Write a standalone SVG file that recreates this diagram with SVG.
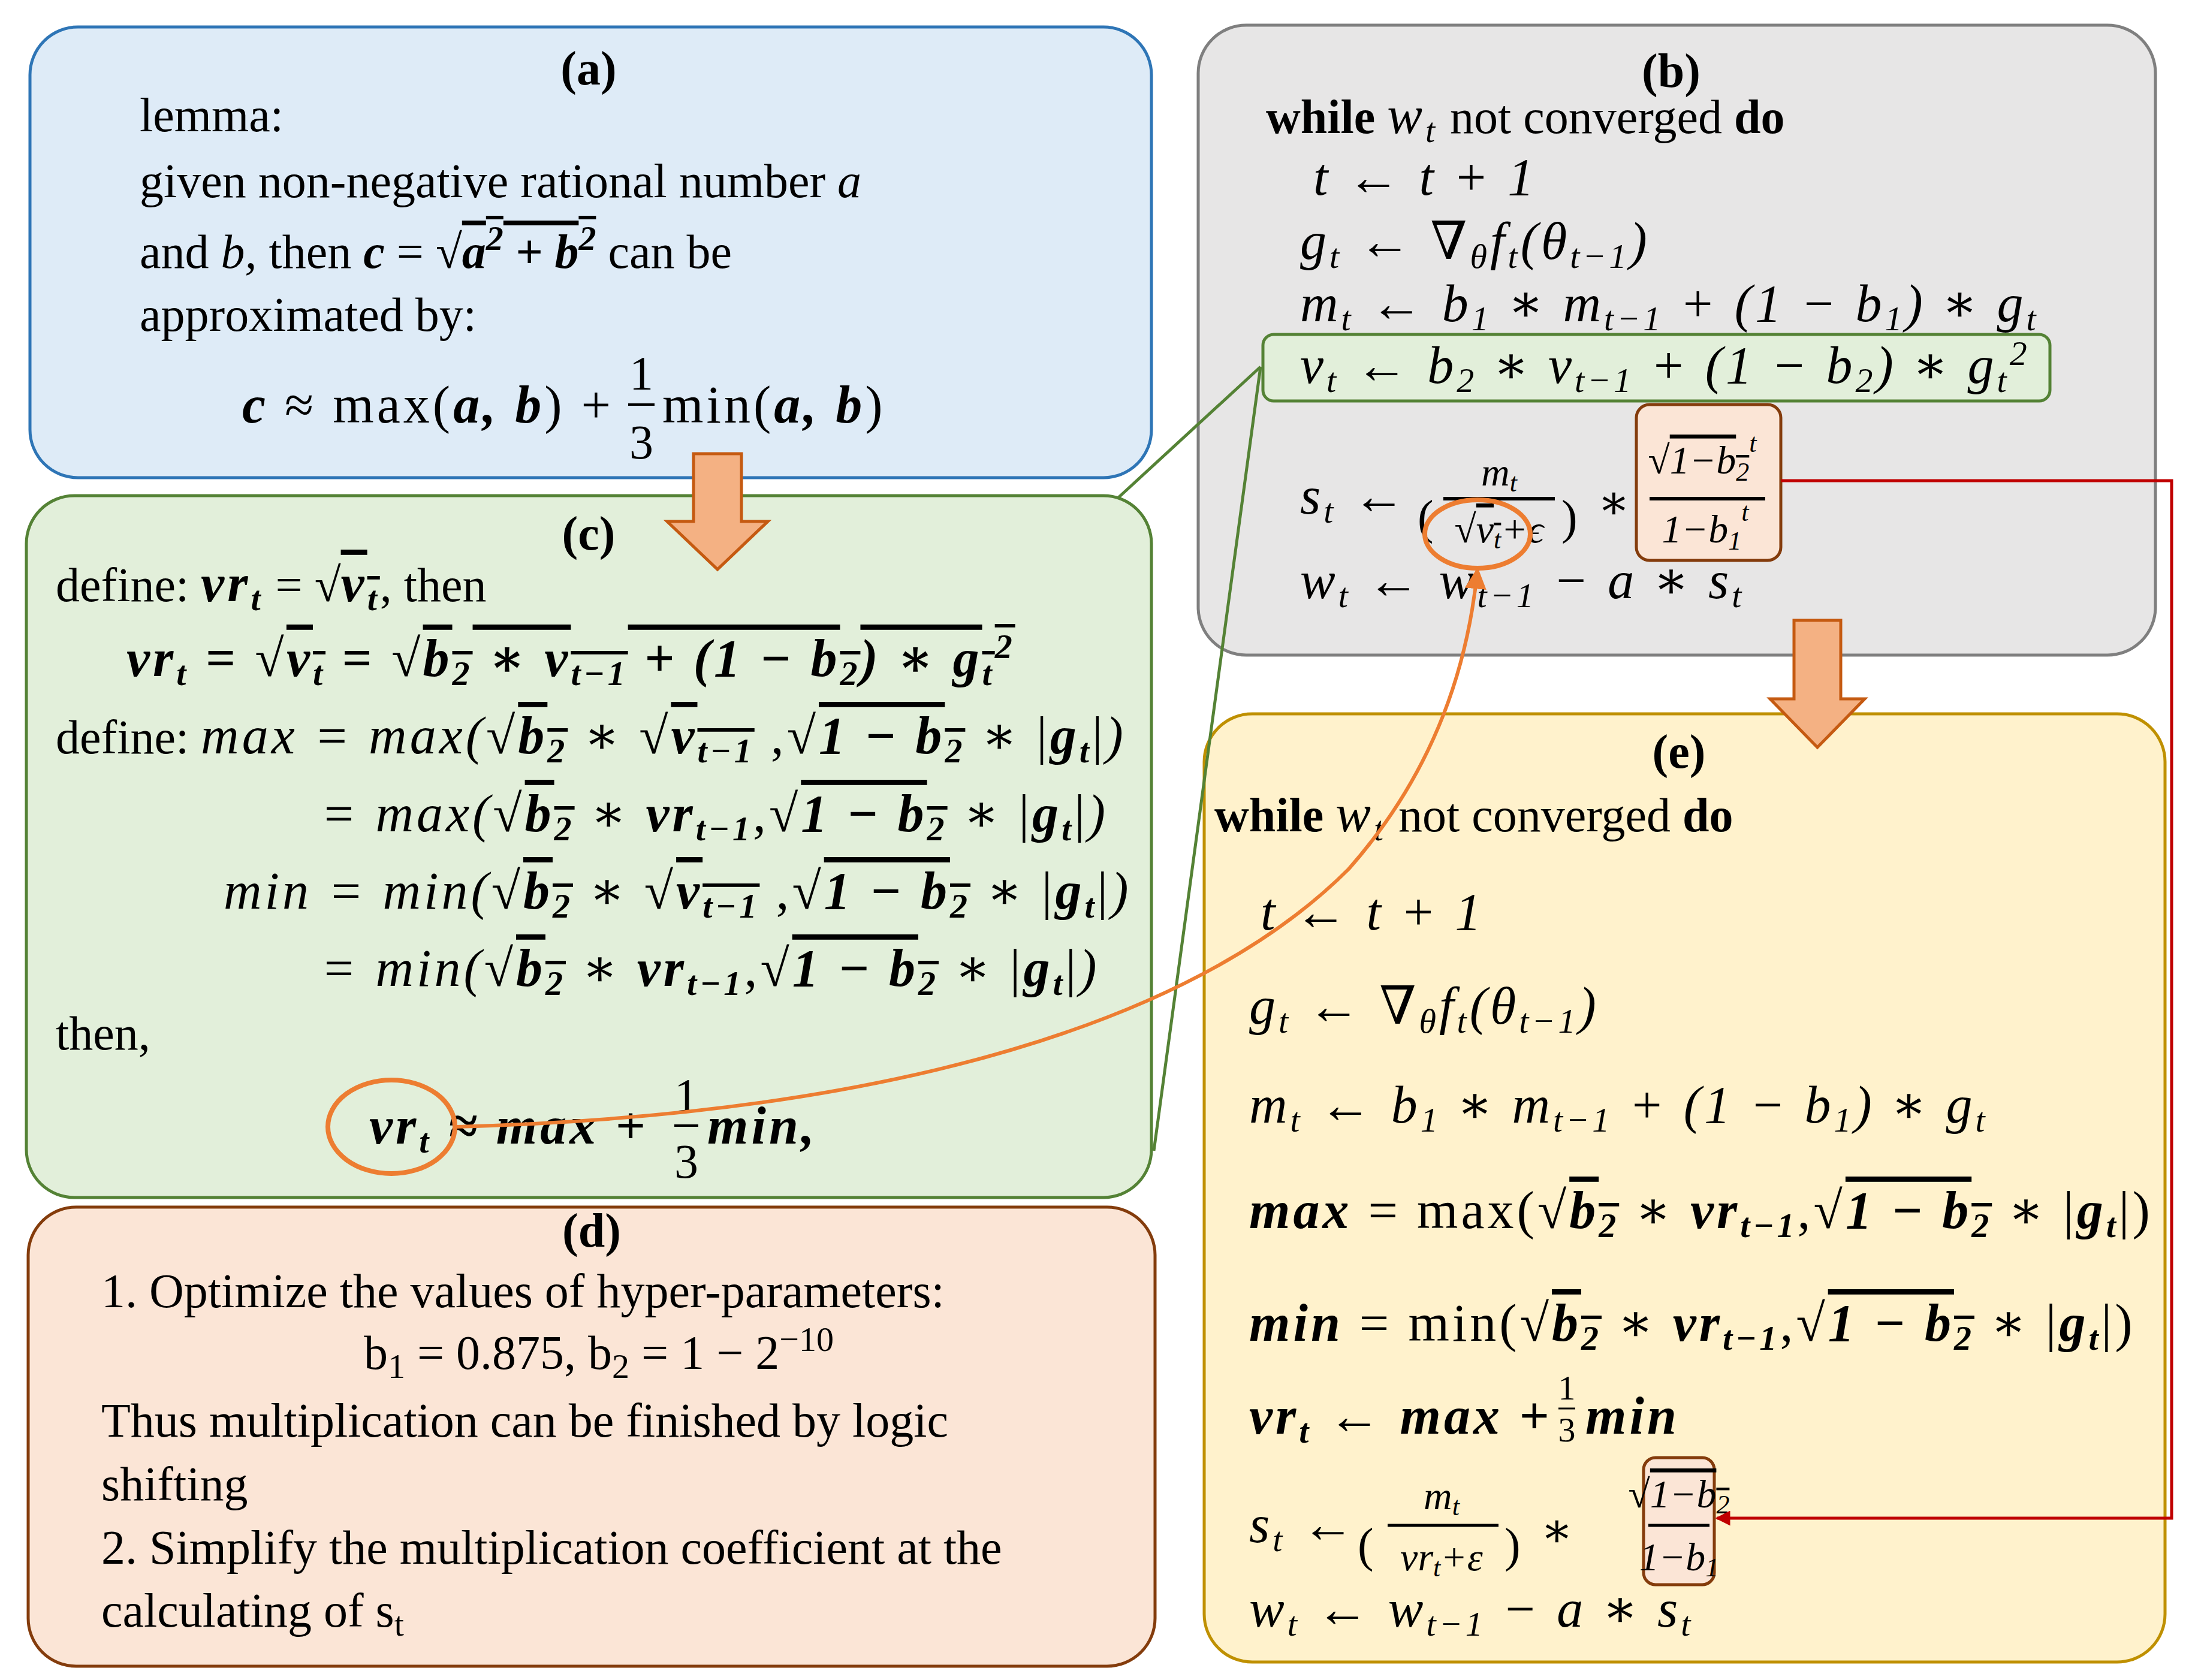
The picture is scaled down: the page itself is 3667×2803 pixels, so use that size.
<svg xmlns="http://www.w3.org/2000/svg" width="3667" height="2803" viewBox="0 0 3667 2803">
<defs>
<style>
text{font-family:"Liberation Serif","DejaVu Serif",serif;font-size:80px;fill:#000}
.t{font-weight:bold;text-anchor:middle}
.m{font-style:italic}
.mb{font-style:italic;font-weight:bold}
.s{font-size:58px}
.f{font-size:66px;font-style:italic}
.ov{text-decoration:overline}
.mx{font-size:88px;letter-spacing:5px}
</style>
<marker id="oa" viewBox="0 0 10 10" refX="9" refY="5" markerWidth="6" markerHeight="6" orient="auto"><path d="M0,0L10,5L0,10z" fill="#ED7D31"/></marker>
<marker id="ra" viewBox="0 0 10 10" refX="9" refY="5" markerWidth="5" markerHeight="5" orient="auto"><path d="M0,0L10,5L0,10z" fill="#C00000"/></marker>
</defs>
<rect width="3667" height="2803" fill="#fff"/>

<g id="a">
<rect x="50" y="45" width="1871" height="752" rx="80" fill="#DEEBF7" stroke="#2E75B6" stroke-width="5"/>
<text class="t" x="982" y="141">(a)</text>
<text x="233" y="219">lemma:</text>
<text x="233" y="329">given non-negative rational number <tspan class="m">a</tspan></text>
<text x="233" y="447">and <tspan class="m">b,</tspan> then <tspan class="mb">c</tspan> = √<tspan class="mb ov">a<tspan class="s" dy="-30">2</tspan><tspan dy="30"> + b</tspan><tspan class="s" dy="-30">2</tspan></tspan><tspan dy="30"> can be</tspan></text>
<text x="233" y="552">approximated by:</text>
<text x="404" y="705" class="mx"><tspan class="mb">c</tspan> ≈ max(<tspan class="mb">a, b</tspan>) + </text>
<text x="1070" y="650" text-anchor="middle">1</text><line x1="1048" y1="675" x2="1092" y2="675" stroke="#000" stroke-width="4"/><text x="1070" y="765" text-anchor="middle">3</text>
<text x="1105" y="705" class="mx">min(<tspan class="mb">a, b</tspan>)</text>
</g>

<g id="c">
<rect x="44" y="827" width="1877" height="1171" rx="80" fill="#E2EFDA" stroke="#548235" stroke-width="5"/>
<text class="t" x="982" y="917">(c)</text>
<text x="93" y="1003">define: <tspan class="mb mx">vr<tspan class="s" dy="15">t</tspan></tspan><tspan dy="-15"> = √</tspan><tspan class="mb ov mx">v<tspan class="s" dy="15">t</tspan></tspan><tspan dy="-15">, then</tspan></text>
<text x="211" y="1128" class="mb mx">vr<tspan class="s" dy="15">t</tspan><tspan dy="-15"> = √</tspan><tspan class="ov">v<tspan class="s" dy="15">t</tspan></tspan><tspan dy="-15"> = √</tspan><tspan class="ov">b<tspan class="s" dy="15">2</tspan><tspan dy="-15">  ∗ v</tspan><tspan class="s" dy="15">t−1</tspan><tspan dy="-15"> + (1  − b</tspan><tspan class="s" dy="15">2</tspan><tspan dy="-15">) ∗ g</tspan><tspan class="s" dy="15">t</tspan><tspan class="s" dy="-45">2</tspan></tspan></text>
<text x="93" y="1257">define: <tspan class="m mx">max = max(</tspan><tspan class="mx">√</tspan><tspan class="mb ov mx">b<tspan class="s" dy="15">2</tspan></tspan><tspan class="mx" dy="-15"> ∗ √</tspan><tspan class="mb ov mx">v<tspan class="s" dy="15">t−1</tspan></tspan><tspan class="mx" dy="-15"> ,√</tspan><tspan class="mb ov mx">1 − b<tspan class="s" dy="15">2</tspan></tspan><tspan class="mx" dy="-15"> ∗ |</tspan><tspan class="mb mx">g<tspan class="s" dy="15">t</tspan></tspan><tspan class="mx" dy="-15">|<tspan class="m">)</tspan></tspan></text>
<text x="535" y="1387" class="mx"><tspan class="m">= max(</tspan>√<tspan class="mb ov">b<tspan class="s" dy="15">2</tspan></tspan><tspan dy="-15"> ∗ </tspan><tspan class="mb">vr<tspan class="s" dy="15">t−1</tspan></tspan><tspan dy="-15">,√</tspan><tspan class="mb ov">1 − b<tspan class="s" dy="15">2</tspan></tspan><tspan dy="-15"> ∗ |</tspan><tspan class="mb">g<tspan class="s" dy="15">t</tspan></tspan><tspan dy="-15">|<tspan class="m">)</tspan></tspan></text>
<text x="373" y="1516" class="mx"><tspan class="m">min = min(</tspan>√<tspan class="mb ov">b<tspan class="s" dy="15">2</tspan></tspan><tspan dy="-15"> ∗ √</tspan><tspan class="mb ov">v<tspan class="s" dy="15">t−1</tspan></tspan><tspan dy="-15"> ,√</tspan><tspan class="mb ov">1 − b<tspan class="s" dy="15">2</tspan></tspan><tspan dy="-15"> ∗ |</tspan><tspan class="mb">g<tspan class="s" dy="15">t</tspan></tspan><tspan dy="-15">|<tspan class="m">)</tspan></tspan></text>
<text x="535" y="1645" class="mx"><tspan class="m">= min(</tspan>√<tspan class="mb ov">b<tspan class="s" dy="15">2</tspan></tspan><tspan dy="-15"> ∗ </tspan><tspan class="mb">vr<tspan class="s" dy="15">t−1</tspan></tspan><tspan dy="-15">,√</tspan><tspan class="mb ov">1 − b<tspan class="s" dy="15">2</tspan></tspan><tspan dy="-15"> ∗ |</tspan><tspan class="mb">g<tspan class="s" dy="15">t</tspan></tspan><tspan dy="-15">|<tspan class="m">)</tspan></tspan></text>
<text x="93" y="1751">then,</text>
<text x="616" y="1908" class="mb mx">vr<tspan class="s" dy="15">t</tspan><tspan dy="-15"> ≈ max + </tspan></text>
<text x="1145" y="1855" text-anchor="middle">1</text><line x1="1125" y1="1878" x2="1165" y2="1878" stroke="#000" stroke-width="4"/><text x="1145" y="1965" text-anchor="middle">3</text>
<text x="1180" y="1908" class="mb mx">min,</text>
</g>

<g id="b">
<rect x="1999" y="42" width="1597" height="1051" rx="80" fill="#E7E6E6" stroke="#7F7F7F" stroke-width="5"/>
<rect x="2107" y="558" width="1313" height="111" rx="18" fill="#E2EFDA" stroke="#548235" stroke-width="5"/>
<rect x="2730" y="675" width="241" height="260" rx="22" fill="#FBE5D6" stroke="#843C0C" stroke-width="5"/>
<text class="t" x="2788" y="145">(b)</text>
<text x="2112" y="222"><tspan font-weight="bold">while </tspan><tspan class="m mx">w<tspan class="s" dy="15">t</tspan></tspan><tspan dy="-15"> not converged </tspan><tspan font-weight="bold">do</tspan></text>
<text x="2191" y="325" class="m mx">t  ← t + 1</text>
<text x="2169" y="432" class="m mx">g<tspan class="s" dy="15">t</tspan><tspan dy="-15"> ← ∇</tspan><tspan class="s" dy="15">θ</tspan><tspan dy="-15">f</tspan><tspan class="s" dy="15">t</tspan><tspan dy="-15">(θ</tspan><tspan class="s" dy="15">t−1</tspan><tspan dy="-15">)</tspan></text>
<text x="2169" y="536" class="m mx">m<tspan class="s" dy="15">t</tspan><tspan dy="-15"> ←  b</tspan><tspan class="s" dy="15">1</tspan><tspan dy="-15"> ∗  m</tspan><tspan class="s" dy="15">t−1</tspan><tspan dy="-15"> + (1  − b</tspan><tspan class="s" dy="15">1</tspan><tspan dy="-15">) ∗ g</tspan><tspan class="s" dy="15">t</tspan></text>
<text x="2169" y="639" class="m mx">v<tspan class="s" dy="15">t</tspan><tspan dy="-15"> ←  b</tspan><tspan class="s" dy="15">2</tspan><tspan dy="-15">  ∗ v</tspan><tspan class="s" dy="15">t−1</tspan><tspan dy="-15"> + (1  − b</tspan><tspan class="s" dy="15">2</tspan><tspan dy="-15">) ∗ g</tspan><tspan class="s" dy="15">t</tspan><tspan class="s" dy="-45">2</tspan></text>
<text x="2169" y="857" class="m mx">s<tspan class="s" dy="15">t</tspan><tspan dy="-15"> ←</tspan></text>
<text x="2365" y="890" font-size="150">(</text><text x="2605" y="890" font-size="150">)</text>
<text x="2501" y="810" class="f" text-anchor="middle">m<tspan font-size="44" dy="10">t</tspan></text>
<line x1="2408" y1="832" x2="2594" y2="832" stroke="#000" stroke-width="6"/>
<text x="2501" y="905" class="f" text-anchor="middle">√<tspan class="ov">v<tspan font-size="44" dy="10">t</tspan></tspan><tspan dy="-10">+ϵ</tspan></text>
<text x="2665" y="865">∗</text>
<text x="2840" y="790" class="f" text-anchor="middle">√<tspan class="ov">1−b<tspan font-size="44" dy="12">2</tspan></tspan><tspan font-size="44" dy="-48">t</tspan></text>
<line x1="2752" y1="832" x2="2945" y2="832" stroke="#000" stroke-width="6"/>
<text x="2845" y="905" class="f" text-anchor="middle">1−b<tspan font-size="44" dy="12">1</tspan><tspan font-size="44" dy="-48">t</tspan></text>
<text x="2169" y="998" class="m mx">w<tspan class="s" dy="15">t</tspan><tspan dy="-15"> ← w</tspan><tspan class="s" dy="15">t−1</tspan><tspan dy="-15">  − a ∗ s</tspan><tspan class="s" dy="15">t</tspan></text>
</g>

<g id="e">
<rect x="2009" y="1191" width="1603" height="1582" rx="80" fill="#FFF2CC" stroke="#BF9000" stroke-width="5"/>
<rect x="2742" y="2432" width="118" height="212" rx="20" fill="#FBE5D6" stroke="#843C0C" stroke-width="5"/>
<text class="t" x="2801" y="1281">(e)</text>
<text x="2026" y="1387"><tspan font-weight="bold">while </tspan><tspan class="m mx">w<tspan class="s" dy="15">t</tspan></tspan><tspan dy="-15"> not converged </tspan><tspan font-weight="bold">do</tspan></text>
<text x="2103" y="1551" class="m mx">t  ← t + 1</text>
<text x="2084" y="1708" class="m mx">g<tspan class="s" dy="15">t</tspan><tspan dy="-15"> ← ∇</tspan><tspan class="s" dy="15">θ</tspan><tspan dy="-15">f</tspan><tspan class="s" dy="15">t</tspan><tspan dy="-15">(θ</tspan><tspan class="s" dy="15">t−1</tspan><tspan dy="-15">)</tspan></text>
<text x="2084" y="1873" class="m mx">m<tspan class="s" dy="15">t</tspan><tspan dy="-15"> ←  b</tspan><tspan class="s" dy="15">1</tspan><tspan dy="-15"> ∗  m</tspan><tspan class="s" dy="15">t−1</tspan><tspan dy="-15"> + (1  − b</tspan><tspan class="s" dy="15">1</tspan><tspan dy="-15">) ∗ g</tspan><tspan class="s" dy="15">t</tspan></text>
<text x="2084" y="2049" class="mx"><tspan class="mb">max</tspan> = max(√<tspan class="mb ov">b<tspan class="s" dy="15">2</tspan></tspan><tspan dy="-15"> ∗ </tspan><tspan class="mb">vr<tspan class="s" dy="15">t−1</tspan></tspan><tspan dy="-15">,√</tspan><tspan class="mb ov">1 − b<tspan class="s" dy="15">2</tspan></tspan><tspan dy="-15"> ∗ |</tspan><tspan class="mb">g<tspan class="s" dy="15">t</tspan></tspan><tspan dy="-15">|)</tspan></text>
<text x="2084" y="2237" class="mx"><tspan class="mb">min</tspan> = min(√<tspan class="mb ov">b<tspan class="s" dy="15">2</tspan></tspan><tspan dy="-15"> ∗ </tspan><tspan class="mb">vr<tspan class="s" dy="15">t−1</tspan></tspan><tspan dy="-15">,√</tspan><tspan class="mb ov">1 − b<tspan class="s" dy="15">2</tspan></tspan><tspan dy="-15"> ∗ |</tspan><tspan class="mb">g<tspan class="s" dy="15">t</tspan></tspan><tspan dy="-15">|)</tspan></text>
<text x="2084" y="2392" class="mb mx">vr<tspan class="s" dy="15">t</tspan><tspan dy="-15"> ← max + </tspan></text>
<text x="2614" y="2335" class="s" text-anchor="middle">1</text><line x1="2600" y1="2350" x2="2628" y2="2350" stroke="#000" stroke-width="3"/><text x="2614" y="2405" class="s" text-anchor="middle">3</text>
<text x="2645" y="2392" class="mb mx">min</text>
<text x="2084" y="2573" class="m mx">s<tspan class="s" dy="15">t</tspan><tspan dy="-15"> ←</tspan></text>
<text x="2265" y="2605" font-size="140">(</text><text x="2510" y="2605" font-size="140">)</text>
<text x="2405" y="2518" class="f" text-anchor="middle">m<tspan font-size="44" dy="10">t</tspan></text>
<line x1="2315" y1="2545" x2="2500" y2="2545" stroke="#000" stroke-width="5"/>
<text x="2405" y="2620" class="f" text-anchor="middle">vr<tspan font-size="44" dy="10">t</tspan><tspan dy="-10">+ε</tspan></text>
<text x="2570" y="2580">∗</text>
<text x="2801" y="2515" class="f" text-anchor="middle">√<tspan class="ov">1−b<tspan font-size="44" dy="10">2</tspan></tspan></text>
<line x1="2750" y1="2545" x2="2852" y2="2545" stroke="#000" stroke-width="5"/>
<text x="2801" y="2620" class="f" text-anchor="middle">1−b<tspan font-size="44" dy="10">1</tspan></text>
<text x="2084" y="2714" class="m mx">w<tspan class="s" dy="15">t</tspan><tspan dy="-15"> ← w</tspan><tspan class="s" dy="15">t−1</tspan><tspan dy="-15">  − a ∗ s</tspan><tspan class="s" dy="15">t</tspan></text>
</g>

<g id="d">
<rect x="47" y="2014" width="1880" height="766" rx="80" fill="#FBE5D6" stroke="#843C0C" stroke-width="5"/>
<text class="t" x="987" y="2080">(d)</text>
<text x="169" y="2181">1. Optimize the values of hyper-parameters:</text>
<text x="999" y="2284" text-anchor="middle">b<tspan class="s" dy="15">1</tspan><tspan dy="-15"> = 0.875, b</tspan><tspan class="s" dy="15">2</tspan><tspan dy="-15"> = 1 − 2</tspan><tspan class="s" dy="-30">−10</tspan></text>
<text x="169" y="2397">Thus multiplication can be finished by logic</text>
<text x="169" y="2503">shifting</text>
<text x="169" y="2609">2. Simplify the multiplication coefficient at the</text>
<text x="169" y="2714">calculating of s<tspan class="s" dy="15">t</tspan></text>
</g>

<g id="connectors">
<path d="M1157,757H1237V870H1281L1197,950L1113,870H1157Z" fill="#F4B183" stroke="#C55A11" stroke-width="5"/>
<path d="M2993,1035H3071V1166H3111L3032,1247L2953,1166H2993Z" fill="#F4B183" stroke="#C55A11" stroke-width="5"/>
<line x1="2103" y1="612" x2="1866" y2="830" stroke="#548235" stroke-width="5"/>
<line x1="2103" y1="612" x2="1925" y2="1920" stroke="#548235" stroke-width="5"/>
<ellipse cx="653" cy="1880" rx="106" ry="78" fill="none" stroke="#ED7D31" stroke-width="8"/>
<ellipse cx="2465" cy="891" rx="88" ry="57" fill="none" stroke="#ED7D31" stroke-width="8"/>
<path d="M759,1880C1500,1860 2000,1700 2250,1450C2400,1280 2450,1100 2465,950" fill="none" stroke="#ED7D31" stroke-width="6" marker-end="url(#oa)"/>
<path d="M2971,802H3623V2533H2864" fill="none" stroke="#C00000" stroke-width="5" marker-end="url(#ra)"/>
</g>
</svg>
